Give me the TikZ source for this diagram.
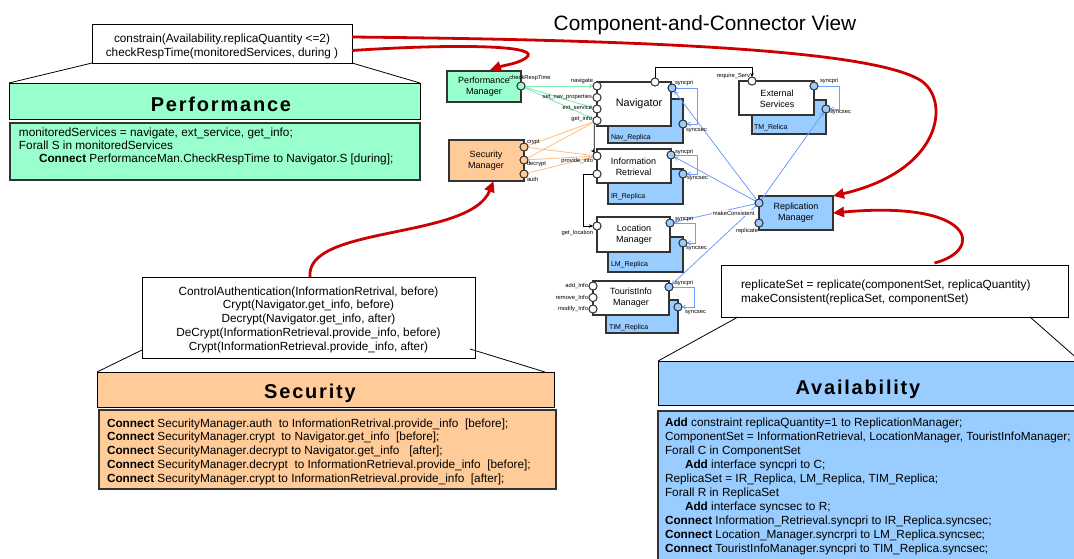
\documentclass[tikz,border=0pt]{standalone}
\usepackage{fontspec}
\setmainfont{Liberation Sans}
\newfontfamily\headfont[LetterSpace=9]{Liberation Sans}
\usetikzlibrary{arrows.meta}

\definecolor{perfgreen}{HTML}{99FFCC}
\definecolor{secorange}{HTML}{FFCC99}
\definecolor{availblue}{HTML}{99CCFF}
\definecolor{hotred}{HTML}{CC0000}
\definecolor{syncblue}{HTML}{6E9CFF}
\definecolor{monitorgreen}{HTML}{7DEDB5}
\definecolor{guardorange}{HTML}{FFC48C}
\definecolor{edgegray}{HTML}{333333}

\begin{document}
\begin{tikzpicture}[x=1pt,y=-1pt,
  every node/.style={inner sep=0pt, outer sep=0pt},
  notebox/.style={draw=black, line width=0.9pt, fill=white, anchor=north west},
  titlebar/.style={draw=black, line width=0.9pt, anchor=north west},
  bodybox/.style={draw=edgegray, line width=1.3pt, anchor=north west},
  comp/.style={draw=edgegray, line width=1.2pt, fill=white, anchor=north west},
  replica/.style={draw=edgegray, line width=1.2pt, fill=availblue, anchor=north west},
  port/.style={circle, draw=edgegray, line width=0.9pt, fill=white, minimum size=8pt},
  syncport/.style={port, fill=availblue},
  tag/.style={font=\fontsize{5.8}{6}\selectfont},
  replabel/.style={font=\fontsize{7}{8}\selectfont, anchor=west},
  compname/.style={font=\fontsize{9}{11}\selectfont, align=center},
  notetext/.style={font=\fontsize{11.8}{14}\selectfont},
  heading/.style={font=\headfont\bfseries\fontsize{20}{24}\selectfont, anchor=base},
  wire/.style={draw=black, line width=0.8pt, -{Stealth[length=4pt,width=3.5pt]}},
  syncwire/.style={draw=syncblue, line width=0.8pt, -{Straight Barb[length=3pt,width=4pt]}},
  monwire/.style={draw=monitorgreen, line width=0.9pt, -{Straight Barb[length=3pt,width=4pt]}},
  guardwire/.style={draw=guardorange, line width=0.9pt},
  weave/.style={draw=hotred, line width=2.8pt, -{Triangle[length=11pt,width=10pt]}},
]
\useasboundingbox (0,0) rectangle (1074,558);
\fill[white] (0,0) rectangle (1074,558);
\clip (0,0) rectangle (1074,558);

\node[font=\fontsize{20.8}{24}\selectfont, anchor=base] (viewtitle) at (705,30.5) {Component-and-Connector View};

% ---------------- Performance concern ----------------
\node[notebox, minimum width=260pt, minimum height=39pt] (perfnote) at (92,24) {};
\node[notetext, anchor=base] (perfn-1) at (222,42) {constrain(Availability.replicaQuantity <=2)};
\node[notetext, anchor=base] (perfn-2) at (222,56) {checkRespTime(monitoredServices, during )};
\node[titlebar, fill=perfgreen, minimum width=411pt, minimum height=36pt] (perftitle) at (9,83) {};
\draw[line width=0.8pt] (perfnote.south west) -- (perftitle.north west);
\draw[line width=0.8pt] (perfnote.south east) -- (perftitle.north east);
\node[heading] (perfhead) at (221,111.5) {Performance};
\node[bodybox, fill=perfgreen, minimum width=410pt, minimum height=57pt] (perfbody) at (10,123) {};
\foreach \dx/\txt [count=\k from 0] in {
  0/{monitoredServices = navigate, ext\_service, get\_info;},
  0/{Forall S in monitoredServices},
  20/{\textbf{Connect} PerformanceMan.CheckRespTime to Navigator.S [during];}}
  \node[notetext, anchor=base west] (perfl-\k) at (19+\dx,136+13.3*\k) {\txt};

% ---------------- Security concern ----------------
\node[notebox, minimum width=333pt, minimum height=81pt] (secnote) at (142,277) {};
\foreach \txt [count=\k from 0] in {
  {ControlAuthentication(InformationRetrival, before)},
  {Crypt(Navigator.get\_info, before)},
  {Decrypt(Navigator.get\_info, after)},
  {DeCrypt(InformationRetrieval.provide\_info, before)},
  {Crypt(InformationRetrieval.provide\_info, after)}}
  \node[notetext, anchor=base] (secn-\k) at (308.5,295+13.8*\k) {\txt};
\node[titlebar, fill=secorange, minimum width=457pt, minimum height=35pt] (sectitle) at (97,372) {};
\draw[line width=0.8pt] ([yshift=8pt]secnote.south west) -- (sectitle.north west);
\draw[line width=0.8pt] ([xshift=-5pt,yshift=9pt]secnote.south east) -- ([xshift=-9pt]sectitle.north east);
\node[heading] (sechead) at (310,398.3) {Security};
\node[bodybox, fill=secorange, minimum width=457pt, minimum height=79pt] (secbody) at (99,410) {};
\foreach \txt [count=\k from 0] in {
  {\textbf{Connect} SecurityManager.auth\ \ to InformationRetrival.provide\_info\ \ [before];},
  {\textbf{Connect} SecurityManager.crypt\ \ to Navigator.get\_info\ \ [before];},
  {\textbf{Connect} SecurityManager.decrypt to Navigator.get\_info\ \ \ [after];},
  {\textbf{Connect} SecurityManager.decrypt\ \ to InformationRetrieval.provide\_info\ \ [before];},
  {\textbf{Connect} SecurityManager.crypt to InformationRetrieval.provide\_info\ \ [after];}}
  \node[notetext, anchor=base west] (secl-\k) at (107,427+13.8*\k) {\txt};

% ---------------- Availability concern ----------------
\node[notebox, minimum width=347pt, minimum height=52pt] (avnote) at (721,265) {};
\node[notetext, anchor=base west] (avn-1) at (741,288) {replicateSet = replicate(componentSet, replicaQuantity)};
\node[notetext, anchor=base west] (avn-2) at (741,302) {makeConsistent(replicaSet, componentSet)};
\node[titlebar, fill=availblue, minimum width=422pt, minimum height=44pt] (avtitle) at (658,361) {};
\draw[line width=0.8pt] ([xshift=17pt]avnote.south west) -- (avtitle.north west);
\draw[line width=0.8pt] ([xshift=-38pt]avnote.south east) -- (avtitle.north east);
\node[heading] (avhead) at (858,394) {Availability};
\node[bodybox, fill=availblue, minimum width=422pt, minimum height=160pt] (avbody) at (658,411) {};
\foreach \dx/\txt [count=\k from 0] in {
  0/{\textbf{Add} constraint replicaQuantity=1 to ReplicationManager;},
  0/{ComponentSet = InformationRetrieval, LocationManager, TouristInfoManager;},
  0/{Forall C in ComponentSet},
  20/{\textbf{Add} interface syncpri to C;},
  0/{ReplicaSet = IR\_Replica, LM\_Replica, TIM\_Replica;},
  0/{Forall R in ReplicaSet},
  20/{\textbf{Add} interface syncsec to R;},
  0/{\textbf{Connect} Information\_Retrieval.syncpri to IR\_Replica.syncsec;},
  0/{\textbf{Connect} Location\_Manager.syncrpri to LM\_Replica.syncsec;},
  0/{\textbf{Connect} TouristInfoManager.syncpri to TIM\_Replica.syncsec;}}
  \node[notetext, anchor=base west] (avl-\k) at (665+\dx,426+14*\k) {\txt};

% ---------------- Components and their replicas ----------------
\node[comp, fill=perfgreen, minimum width=74pt, minimum height=31pt] (pm) at (447,71) {};
\node[compname] (pmname) at (484,86.5) {Performance\\Manager};
\node[comp, fill=secorange, minimum width=75pt, minimum height=41pt] (sm) at (449,140) {};
\node[compname] (smname) at (486,161) {Security\\Manager};

\node[replica, minimum width=75pt, minimum height=44pt] (navrep) at (608,99) {};
\node[comp, minimum width=74pt, minimum height=44pt] (nav) at (597,82) {};
\node[font=\fontsize{10.8}{12}\selectfont] (navname) at (639,104) {Navigator};
\node[replabel] (navreplbl) at (611,137.5) {Nav\_Replica};

\node[replica, minimum width=75pt, minimum height=35pt] (irrep) at (608,169) {};
\node[comp, minimum width=74pt, minimum height=34pt] (ir) at (597,149) {};
\node[compname] (irname) at (633.5,166.5) {Information\\Retrieval};
\node[replabel] (irreplbl) at (611,197) {IR\_Replica};

\node[replica, minimum width=75pt, minimum height=35pt] (lmrep) at (608,237) {};
\node[comp, minimum width=73pt, minimum height=35pt] (lm) at (597,217) {};
\node[compname] (lmname) at (634,235) {Location\\Manager};
\node[replabel] (lmreplbl) at (611,265) {LM\_Replica};

\node[replica, minimum width=72pt, minimum height=33pt] (timrep) at (606,300) {};
\node[comp, minimum width=76pt, minimum height=34pt] (tim) at (593,281) {};
\node[compname] (timname) at (631,298) {TouristInfo\\Manager};
\node[replabel] (timreplbl) at (609,328) {TIM\_Replica};

\node[replica, minimum width=74pt, minimum height=34pt] (esrep) at (752,100) {};
\node[comp, minimum width=75pt, minimum height=34pt] (es) at (739,81) {};
\node[compname] (esname) at (777,98.5) {External\\Services};
\node[replabel] (esreplbl) at (754,128) {TM\_Relica};

\node[comp, fill=availblue, minimum width=74pt, minimum height=34pt] (rm) at (759,196) {};
\node[compname] (rmname) at (796,213) {Replication\\Manager};

% ---------------- Ports ----------------
\node[port, fill=perfgreen] (pmport) at (521,86) {};
\node[port, fill=secorange] (smcrypt) at (524,147) {};
\node[port, fill=secorange] (smdecrypt) at (524,160) {};
\node[port, fill=secorange] (smauth) at (524,174) {};

\node[port] (navnav) at (597,86) {};
\node[port] (navset) at (597,97.5) {};
\node[port] (navext) at (597,109) {};
\node[port] (navgi) at (597,120.5) {};
\node[port] (navtop) at (655,82) {};
\node[syncport] (navpri) at (672,88) {};
\node[syncport] (navsec) at (683,124) {};

\node[port] (irpi) at (597,156) {};
\node[port] (irp2) at (597,174) {};
\node[syncport] (irpri) at (671,155) {};
\node[syncport] (irsec) at (683,174) {};

\node[port] (lmgl) at (597,226) {};
\node[syncport] (lmpri) at (670,223) {};
\node[syncport] (lmsec) at (683,243) {};

\node[port] (timadd) at (593,286) {};
\node[port] (timrem) at (593,297.5) {};
\node[port] (timmod) at (593,309) {};
\node[syncport] (timpri) at (669,287) {};
\node[syncport] (timsec) at (678,307) {};

\node[port] (esreq) at (752,81) {};
\node[syncport] (espri) at (814,86) {};
\node[syncport] (essec) at (826,109) {};

\node[syncport] (rmmc) at (759,203) {};
\node[syncport] (rmrep) at (759,223) {};

% ---------------- Connectors ----------------
\draw[monwire] (pmport) -- (navnav);
\draw[monwire] (pmport) -- (navext);
\draw[monwire] (pmport) -- (navgi);

\draw[guardwire] (smcrypt) -- (navgi);
\draw[guardwire] (smcrypt) -- (irpi);
\draw[guardwire] (smdecrypt) -- (navgi);
\draw[guardwire] (smdecrypt) -- (irpi);
\draw[guardwire] (smauth) -- (irpi);

\draw[syncwire] (rmmc) -- (navpri);
\draw[syncwire] (rmmc) -- (irpri);
\draw[syncwire] (rmmc) -- (lmpri);
\draw[syncwire] (rmmc) -- (timpri);
\draw[syncwire] (rmmc) -- (essec);

\draw[syncwire] (navpri) -- ++(25,0) |- (navsec);
\draw[syncwire] (irpri) -- ++(26,0) |- (irsec);
\draw[syncwire] (lmpri) -- ++(25,0) |- (lmsec);
\draw[syncwire] (timpri) -- ++(25,0) |- (timsec);
\draw[syncwire] (espri) -- ++(25,0) |- (essec);

\draw[wire] (navtop) -- ++(0,-15) -| (esreq);
\draw[wire] (navgi.225) -- ++(0,29) -- (irpi);
\draw[wire] (irp2.west) -- ++(-10,0) |- (lmgl);

% ports redrawn over the connector ends
\foreach \p/\c in {pmport/perfgreen, smcrypt/secorange, smdecrypt/secorange, smauth/secorange,
  navnav/white, navset/white, navext/white, navgi/white, navtop/white, irpi/white, irp2/white,
  lmgl/white, timadd/white, timrem/white, timmod/white, esreq/white,
  navpri/availblue, navsec/availblue, irpri/availblue, irsec/availblue, lmpri/availblue,
  lmsec/availblue, timpri/availblue, timsec/availblue, espri/availblue, essec/availblue,
  rmmc/availblue, rmrep/availblue}
  \filldraw[fill=\c, draw=edgegray, line width=0.9pt] (\p.center) circle[radius=4pt];

% ---------------- Port labels ----------------
\node[tag] (tcrt) at (530,78) {checkRespTime};
\node[tag, anchor=west] (tcrypt) at (527,142) {crypt};
\node[tag, anchor=west] (tdecrypt) at (527,164) {decrypt};
\node[tag, anchor=west] (tauth) at (527,179) {auth};
\node[tag, anchor=east] (tnav) at (593,81) {navigate};
\node[tag, anchor=east] (tset) at (592,97) {set\_nav\_properties};
\node[tag, anchor=east] (text) at (592,108) {ext\_service};
\node[tag, anchor=east] (tgi) at (592,119) {get\_info};
\node[tag, anchor=east] (tpi) at (593,161) {provide\_info};
\node[tag, anchor=east] (tgl) at (593,233) {get\_location};
\node[tag, anchor=east] (tadd) at (588,286) {add\_Info};
\node[tag, anchor=east] (trem) at (588,298) {remove\_Info};
\node[tag, anchor=east] (tmod) at (588,309) {modify\_Info};
\node[tag, anchor=east] (treq) at (750,76) {require\_Serv};
\node[tag, anchor=west] (tnavpri) at (675,83) {syncpri};
\node[tag, anchor=west] (tnavsec) at (686,131) {syncsec};
\node[tag, anchor=west] (tirpri) at (675,152) {syncpri};
\node[tag, anchor=west] (tirsec) at (687,179) {syncsec};
\node[tag, anchor=west] (tlmpri) at (675,219) {syncpri};
\node[tag, anchor=west] (tlmsec) at (686,249) {syncsec};
\node[tag, anchor=west] (ttimpri) at (675,283) {syncpri};
\node[tag, anchor=west] (ttimsec) at (685,313) {syncsec};
\node[tag, anchor=west] (tespri) at (820,81) {syncpri};
\node[tag, anchor=west] (tessec) at (830,113) {syncsec};
\node[tag, anchor=east, fill=white, inner sep=0.6pt] (tmc) at (755,213) {makeConsistent};
\node[tag, anchor=east] (trep) at (758,231) {replicate};

% ---------------- Concern weaving arrows ----------------
\draw[weave] ([yshift=6.5pt]perfnote.east) .. controls (650,40) and (870,50) .. (920,80)
  .. controls (950,98) and (945,170) .. (rm.north east);
\draw[weave] ([yshift=-7pt]perfnote.east) .. controls (450,44) and (535,45) .. (528,56)
  .. controls (522,63) and (505,65) .. ([xshift=6pt,yshift=1pt]pm.north);
\draw[weave] ([xshift=1.5pt]secnote.north) .. controls (305,225) and (470,240) .. ([xshift=7pt]sm.south);
\draw[weave] ([xshift=40pt,yshift=2pt]avnote.north) .. controls (985,250) and (975,200) .. (rm.east);

\end{tikzpicture}
\end{document}
